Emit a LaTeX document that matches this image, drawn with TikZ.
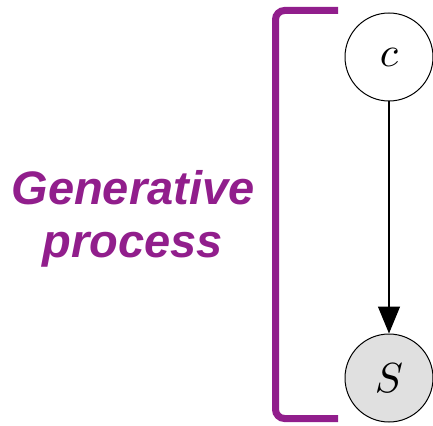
\documentclass[tikz,border=0pt]{standalone}
\usepackage{fontspec}
\setsansfont{Liberation Sans}
\usetikzlibrary{arrows.meta}
\definecolor{gp}{RGB}{145,30,140}
\definecolor{sgray}{RGB}{224,224,224}
\tikzset{
  var/.style={circle, draw=black, line width=1pt, minimum size=88pt, inner sep=0pt},
  bracketline/.style={draw=gp, line width=7pt, rounded corners=9pt},
  label/.style={text=gp, align=center, font=\sffamily\bfseries\itshape\fontsize{47}{53}\selectfont}
}
\begin{document}
\begin{tikzpicture}[x=1pt,y=-1pt]
\useasboundingbox (0,0) rectangle (433,425);
\node[var] (c) at (389,57) {\scalebox{4.2}{$c$}};
\node[var, fill=sgray] (S) at (389,378) {\scalebox{4.2}{$S$}};
\draw[-{Triangle[length=27pt,width=22pt]}, line width=1.3pt] (c) -- (S);
\coordinate (bt) at (338,10.5);
\coordinate (bb) at (338,418.5);
\draw[bracketline] (bt) -- (275.5,10.5) -- (275.5,418.5) -- (bb);
\node[label] (gen) at (133,219) {Generative\\process};
\end{tikzpicture}
\end{document}
